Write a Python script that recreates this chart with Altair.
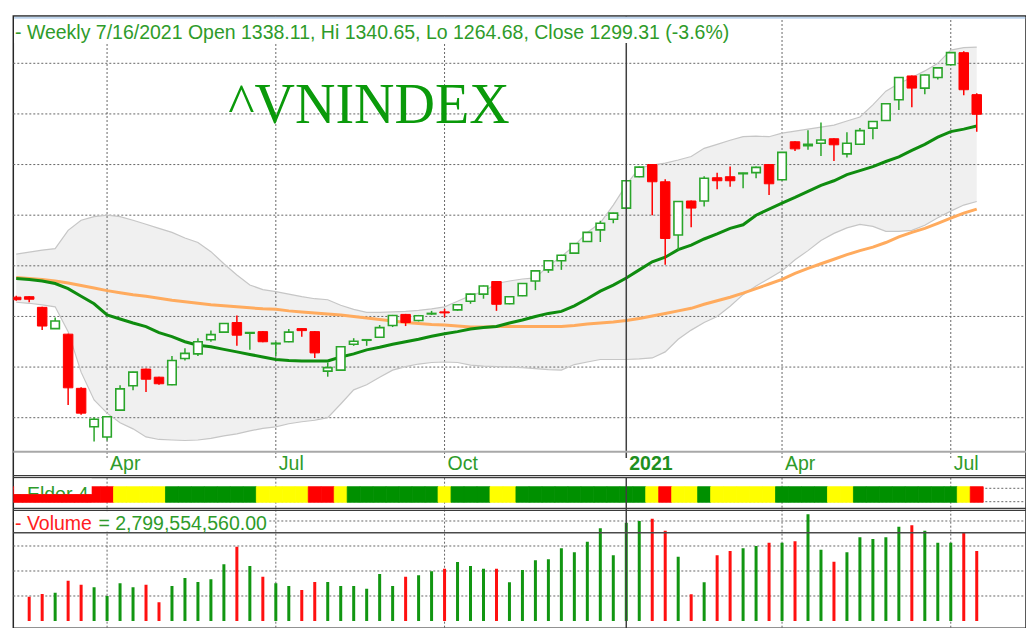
import altair as alt
import pandas as pd
import numpy as np

W, H = 1012.7, 612.3

# ---------------- data (index -1 .. 73, weekly bars) ----------------
weeks = [d.strftime("%Y-%m-%d") for d in pd.date_range("2020-02-14", periods=75, freq="7D")]
bar_idx = list(range(-1, 74))

opens = [938, 939, 918, 876, 865, 758, 682, 662, 715, 763, 796, 780, 765, 817, 826, 854, 869, 888,
         867, 870, 846, 850, 876, 870, 792, 794, 845, 853, 859, 882, 904, 892, 905, 909, 913, 930,
         944, 969, 925, 941, 970, 992, 1010, 1025, 1048, 1071, 1092, 1114, 1176, 1200, 1166, 1061,
         1128, 1128, 1174, 1176, 1182, 1184, 1200, 1170, 1245, 1237, 1242, 1251, 1221, 1240, 1272,
         1287, 1328, 1375, 1351, 1372, 1397, 1421, 1338.11]
highs = [941, 940, 919, 898, 866, 760, 701, 703, 764, 791, 797, 781, 822, 837, 857, 872, 887, 902,
         869, 871, 850, 875, 876, 871, 809, 841, 857, 855, 883, 903, 905, 903, 911, 915, 924, 945,
         961, 970, 940, 966, 991, 1011, 1022, 1045, 1067, 1089, 1105, 1169, 1196, 1201, 1171, 1128,
         1129, 1177, 1184, 1196, 1184, 1196, 1201, 1225, 1246, 1268, 1283, 1252, 1264, 1272, 1286,
         1321, 1373, 1376, 1378, 1392, 1422, 1424, 1340.65]
lows = [931, 928, 873, 875, 725, 706, 653, 655, 713, 754, 751, 765, 764, 813, 822, 850, 868, 842,
        834, 849, 822, 849, 860, 818, 781, 793, 842, 842, 858, 879, 881, 890, 903, 898, 911, 925,
        935, 911, 924, 940, 952, 986, 992, 1024, 1047, 1047, 1084, 1112, 1175, 1100, 1002, 1031,
        1076, 1117, 1151, 1156, 1153, 1173, 1140, 1168, 1227, 1229, 1217, 1207, 1214, 1239, 1250,
        1286, 1308, 1313, 1339, 1368, 1396, 1337, 1264.68]
closes = [933, 934, 881, 891, 759, 709, 697, 702, 757, 790, 776, 767, 813, 827, 850, 864, 886, 863,
          868, 850, 847, 869, 872, 828, 799, 840, 851, 854, 878, 902, 888, 901.5, 906, 907, 923, 944,
          960, 924, 939, 965, 990, 1010, 1021, 1044, 1066, 1084, 1104, 1168, 1195, 1166, 1054, 1127,
          1114, 1173, 1168, 1168, 1183, 1194.5, 1162, 1224, 1231, 1240, 1248.5, 1239, 1242, 1267,
          1285, 1320, 1372, 1351, 1377, 1391, 1421, 1347.8, 1299.31]
# weekly volume, millions of shares (bars 0..73)
volumes = [970, 1080, 1130, 1610, 1450, 1350, 1000, 1510, 1350, 1450, 750, 1400, 1720, 1560, 1670,
           2270, 2970, 2200, 1770, 1510, 1400, 1240, 1560, 1560, 1400, 1400, 1290, 1880, 1400, 1770,
           1830, 1990, 2090, 2360, 2200, 2090, 2090, 1550, 2040, 2430, 2470, 2910, 2750, 3170, 3710,
           2630, 3930, 4000, 4090, 3610, 2570, 1070, 1550, 2630, 2800, 2910, 3000, 3130, 3130, 3190,
           4270, 2850, 2370, 2750, 3350, 3280, 3350, 3770, 3830, 3610, 3130, 3130, 3530, 2799.55]
bb_upper = [1023, 1027, 1031, 1034, 1070, 1090, 1097, 1100, 1097, 1090, 1082, 1074, 1066, 1055, 1046,
            1028, 1004, 982, 962, 953, 949, 944, 939, 935, 933, 922, 914, 908, 908, 909, 910, 912,
            915, 919, 930, 941, 949, 965, 970, 974, 976, 1000, 1018, 1040, 1066, 1085, 1120, 1160,
            1193, 1199, 1203, 1209, 1216, 1232, 1240, 1248, 1255, 1256, 1255, 1262, 1266, 1270, 1274,
            1278, 1286, 1294, 1318, 1345, 1360, 1372, 1385, 1400, 1426, 1431, 1432]
bb_lower = [928, 926, 923, 919, 870, 790, 735, 709, 690, 678, 662, 657, 656, 655, 656, 659, 664, 668,
            674, 679, 682, 688, 692, 695, 700, 727, 755, 765, 780, 794, 801, 806, 809, 810, 809, 804,
            802, 801, 800, 799, 797, 795, 794, 805, 810, 815, 815, 815, 816, 818, 830, 855, 873, 888,
            900, 920, 943, 960, 975, 990, 1012, 1030, 1050, 1064, 1075, 1082, 1078, 1068, 1068, 1070,
            1080, 1095, 1108, 1120, 1127]
ma_fast = [975, 973, 970, 965, 955, 940, 925, 903, 895, 887, 880, 868, 860, 850, 843, 840, 835, 830,
           825, 820, 815, 813, 812, 812, 812, 820, 826, 834, 839, 845, 850, 855, 861, 866, 870, 875,
           878, 880, 887, 893, 900, 906, 910, 921, 935, 950, 962, 976, 992, 1008, 1017, 1032, 1041,
           1053, 1063, 1074, 1081, 1100, 1112, 1124, 1135, 1147, 1159, 1168, 1180, 1188, 1196, 1206,
           1215, 1228, 1240, 1254, 1265, 1270, 1276]
ma_slow = [977, 975, 973, 970, 966, 961, 956, 951, 947, 943, 940, 936, 932, 929, 926, 923, 921, 919,
           917, 915, 914, 911, 909, 907, 905, 903, 900, 897, 894, 891, 888, 886, 884, 883, 881, 879,
           879, 880, 880, 880, 880, 880, 880, 882, 885, 887, 889, 892, 896, 901, 906, 911, 916, 924,
           931, 938, 946, 955, 964, 973, 985, 995, 1004, 1013, 1022, 1030, 1037, 1046, 1057, 1066,
           1074, 1084, 1094, 1104, 1112]
elder = (["R"] * 8 + ["Y"] * 4 + ["G"] * 7 + ["Y"] * 4 + ["R"] * 2 + ["Y"] + ["G"] * 7 + ["Y"]
         + ["G"] * 3 + ["Y"] * 2 + ["G"] * 10 + ["Y"] + ["R"] + ["Y"] * 2 + ["G"] + ["Y"] * 5
         + ["G"] * 4 + ["Y"] * 2 + ["G"] * 8 + ["Y"] + ["R"])

price_grid = [700, 800, 900, 1000, 1100, 1200, 1300, 1400]
volume_grid = [1000, 2000, 3000, 4000]
tick_idx = [6, 19, 32, 46, 58, 71]
tick_labels = ["Apr", "Jul", "Oct", "2021", "Apr", "Jul"]
year_idx = [46]

title_text = "- Weekly 7/16/2021 Open 1338.11, Hi 1340.65, Lo 1264.68, Close 1299.31 (-3.6%)"
symbol_text = "^VNINDEX"
elder_text = "- Elder 4"
vol_text_a = "- Volume"
vol_text_b = "= 2,799,554,560.00"

# ---------------- frames ----------------
df = pd.DataFrame({"week": weeks, "i": bar_idx, "o": opens, "h": highs, "l": lows, "c": closes,
                   "bbu": bb_upper, "bbl": bb_lower, "maf": ma_fast, "mas": ma_slow, "elder": elder})
df["dir"] = np.where(df["c"] >= df["o"], "up", "down")
df["x0"] = df["i"] - 0.5
df["x1"] = df["i"] + 0.5
vdf = df[df["i"] >= 0].copy()
vdf["vol"] = volumes
vdf["zero"] = 0

up_df = df[df["dir"] == "up"]
dn_df = df[df["dir"] == "down"]
vup = vdf[vdf["dir"] == "up"]
vdn = vdf[vdf["dir"] == "down"]

ticks = pd.DataFrame({"i": tick_idx, "lab": tick_labels})
grid_v = ticks[~ticks["i"].isin(year_idx)]
year_df = ticks[ticks["i"].isin(year_idx)]
pg = pd.DataFrame({"p": price_grid})
vg = pd.DataFrame({"v": volume_grid})
one = pd.DataFrame({"k": [0]})

# ---------------- scales ----------------
xs = alt.Scale(domain=[-0.839, 76.41], nice=False, zero=False)
ps = alt.Scale(domain=[700, 1400], range=[401.7, 47.3], nice=False, zero=False)
vs = alt.Scale(domain=[0, 4000], range=[605, 505], nice=False, zero=False)
es = alt.Scale(domain=["R", "Y", "G"], range=["#ff0000", "#ffff00", "#009000"])
X = alt.X("i:Q", scale=xs, axis=None)

GRID = "#666666"
DASH = [2, 2]
GREEN_TXT = "#2e9b2a"
UP = "#2aa52a"
DOWN = "#ff0000"
FONT = "Liberation Sans"

layers = []
# Bollinger band fill
layers.append(alt.Chart(df).mark_area(color="#f0f0f0", opacity=1, clip=True).encode(
    x=X, y=alt.Y("bbl:Q", scale=ps, axis=None), y2="bbu:Q"))
# horizontal price grid
layers.append(alt.Chart(pg).mark_rule(color=GRID, strokeDash=DASH, strokeWidth=1).encode(
    y=alt.Y("p:Q", scale=ps, axis=None), x=alt.value(0), x2=alt.value(W)))
# elder grid lines
layers.append(alt.Chart(one).mark_rule(color=GRID, strokeDash=DASH, strokeWidth=1).encode(
    y=alt.value(472.3), x=alt.value(0), x2=alt.value(W)))
layers.append(alt.Chart(one).mark_rule(color=GRID, strokeDash=DASH, strokeWidth=1).encode(
    y=alt.value(485.7), x=alt.value(0), x2=alt.value(W)))
# volume grid
layers.append(alt.Chart(vg).mark_rule(color=GRID, strokeDash=DASH, strokeWidth=1).encode(
    y=alt.Y("v:Q", scale=vs, axis=None), x=alt.value(0), x2=alt.value(W)))
# vertical dotted grid (price part incl. tick, lower panels)
layers.append(alt.Chart(grid_v).mark_rule(color=GRID, strokeDash=DASH, strokeWidth=1).encode(
    x=X, y=alt.value(0), y2=alt.value(442)))
layers.append(alt.Chart(grid_v).mark_rule(color=GRID, strokeDash=DASH, strokeWidth=1).encode(
    x=X, y=alt.value(461.7), y2=alt.value(H)))
# band edges
layers.append(alt.Chart(df).mark_line(color="#c6c6c6", strokeWidth=1.2, clip=True).encode(
    x=X, y=alt.Y("bbu:Q", scale=ps, axis=None)))
layers.append(alt.Chart(df).mark_line(color="#c6c6c6", strokeWidth=1.2, clip=True).encode(
    x=X, y=alt.Y("bbl:Q", scale=ps, axis=None)))
# moving averages
layers.append(alt.Chart(df).mark_line(color="#ffab5e", strokeWidth=3, clip=True).encode(
    x=X, y=alt.Y("mas:Q", scale=ps, axis=None)))
layers.append(alt.Chart(df).mark_line(color="#0f8c0f", strokeWidth=3, clip=True).encode(
    x=X, y=alt.Y("maf:Q", scale=ps, axis=None)))
# candles
layers.append(alt.Chart(up_df).mark_rule(color=UP, strokeWidth=1.5, clip=True).encode(
    x=X, y=alt.Y("l:Q", scale=ps, axis=None), y2="h:Q"))
layers.append(alt.Chart(dn_df).mark_rule(color=DOWN, strokeWidth=1.5, clip=True).encode(
    x=X, y=alt.Y("l:Q", scale=ps, axis=None), y2="h:Q"))
layers.append(alt.Chart(up_df).mark_bar(fill="white", stroke=UP, strokeWidth=1.6, size=8.5, clip=True).encode(
    x=X, y=alt.Y("o:Q", scale=ps, axis=None), y2="c:Q"))
layers.append(alt.Chart(dn_df).mark_bar(fill=DOWN, stroke=DOWN, strokeWidth=1, size=9.5, clip=True).encode(
    x=X, y=alt.Y("o:Q", scale=ps, axis=None), y2="c:Q"))
# elder impulse strip
layers.append(alt.Chart(df).mark_rect(clip=True, strokeWidth=0.8).encode(
    x=alt.X("x0:Q", scale=xs, axis=None), x2="x1:Q",
    y=alt.value(470.7), y2=alt.value(486.3),
    color=alt.Color("elder:N", scale=es, legend=None),
    stroke=alt.Stroke("elder:N", scale=es, legend=None)))
# volume bars
layers.append(alt.Chart(vup).mark_rule(color="#129612", strokeWidth=3).encode(
    x=X, y=alt.Y("zero:Q", scale=vs, axis=None), y2="vol:Q"))
layers.append(alt.Chart(vdn).mark_rule(color="#ff1010", strokeWidth=3).encode(
    x=X, y=alt.Y("zero:Q", scale=vs, axis=None), y2="vol:Q"))
# year separator (solid)
layers.append(alt.Chart(year_df).mark_rule(color="#404040", strokeWidth=1.5).encode(
    x=X, y=alt.value(0), y2=alt.value(442)))
layers.append(alt.Chart(year_df).mark_rule(color="#404040", strokeWidth=1.5).encode(
    x=X, y=alt.value(461.7), y2=alt.value(H)))
# x axis line
layers.append(alt.Chart(one).mark_rule(color="#a8a8a8", strokeWidth=2).encode(
    y=alt.value(435.7), x=alt.value(0), x2=alt.value(W)))
# panel separators
for yy in [459.7, 461.7, 492.3, 494.3]:
    layers.append(alt.Chart(one).mark_rule(color="#3a3a3a", strokeWidth=1.3).encode(
        y=alt.value(yy), x=alt.value(0), x2=alt.value(W)))
# volume reference line
layers.append(alt.Chart(one).mark_rule(color="#4a4a4a", strokeWidth=1.5).encode(
    y=alt.value(516.7), x=alt.value(0), x2=alt.value(W)))
# axis labels
layers.append(alt.Chart(ticks[ticks["lab"] != "2021"]).mark_text(
    align="left", baseline="alphabetic", dx=3, font=FONT, fontSize=19.5, color=GREEN_TXT).encode(
    x=X, y=alt.value(454), text="lab:N"))
layers.append(alt.Chart(ticks[ticks["lab"] == "2021"]).mark_text(
    align="left", baseline="alphabetic", dx=3, font=FONT, fontSize=19.5, fontWeight="bold",
    color="#1f8f1f").encode(x=X, y=alt.value(454), text="lab:N"))
# title box + text
layers.append(alt.Chart(one).mark_rect(color="white").encode(
    x=alt.value(0.8), x2=alt.value(722), y=alt.value(1), y2=alt.value(27)))
layers.append(alt.Chart(one).mark_rule(color="#bcd3ec", strokeWidth=2).encode(
    y=alt.value(1.8), x=alt.value(0.8), x2=alt.value(W - 0.8)))
layers.append(alt.Chart(one).mark_text(
    text=title_text, align="left", baseline="alphabetic", font=FONT, fontSize=19.5, color=GREEN_TXT).encode(
    x=alt.value(1.7), y=alt.value(23)))
# symbol
layers.append(alt.Chart(one).mark_text(
    text=symbol_text, align="left", baseline="alphabetic", font="Liberation Serif", fontSize=56,
    color="#0a9a0a").encode(x=alt.value(215), y=alt.value(107.3)))
# elder label
layers.append(alt.Chart(one).mark_rect(color="white").encode(
    x=alt.value(0.8), x2=alt.value(78.4), y=alt.value(462.6), y2=alt.value(478.3)))
layers.append(alt.Chart(one).mark_text(
    text=elder_text, align="left", baseline="alphabetic", font=FONT, fontSize=19.5, color=GREEN_TXT).encode(
    x=alt.value(1.7), y=alt.value(484.7)))
layers.append(alt.Chart(one).mark_rect(color="#ff0000").encode(
    x=alt.value(0.8), x2=alt.value(78.4), y=alt.value(478.3), y2=alt.value(486.3)))
# volume label
layers.append(alt.Chart(one).mark_rect(color="white").encode(
    x=alt.value(0.8), x2=alt.value(254.7), y=alt.value(495.2), y2=alt.value(515.6)))
layers.append(alt.Chart(one).mark_text(
    text=vol_text_a, align="left", baseline="alphabetic", font=FONT, fontSize=19.5, color="#ff2020").encode(
    x=alt.value(1.7), y=alt.value(514)))
layers.append(alt.Chart(one).mark_text(
    text=vol_text_b, align="left", baseline="alphabetic", font=FONT, fontSize=19.5, color=GREEN_TXT).encode(
    x=alt.value(85.1), y=alt.value(514)))

chart = alt.layer(*layers).resolve_scale(y="independent").properties(
    width=W, height=H,
    autosize=alt.AutoSizeParams(type="none"),
    padding={"left": 5.3, "top": 8, "right": 0, "bottom": 0},
    background="white",
).configure_view(stroke="#262626", strokeWidth=1.5)

chart.save("out.html", embed_options={"renderer": "svg", "actions": False})
